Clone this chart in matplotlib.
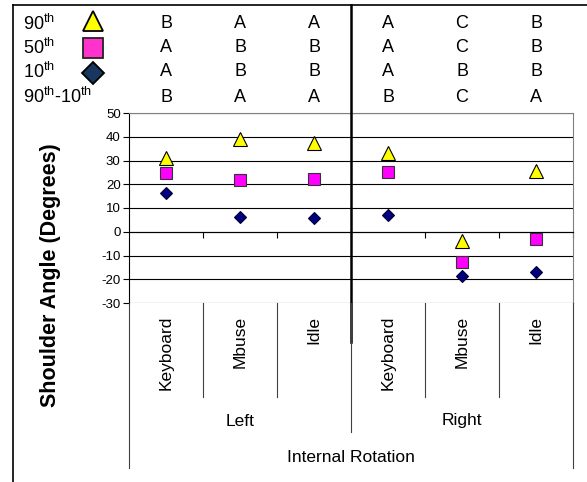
import matplotlib
matplotlib.use('Agg')
import matplotlib.pyplot as plt
import numpy as np

plt.rcParams['font.family'] = ['Liberation Sans', 'DejaVu Sans']
plt.rcParams['axes.unicode_minus'] = False

# data
conditions = ['Keyboard', 'Mbuse', 'Idle', 'Keyboard', 'Mbuse', 'Idle']
sides = ['Left', 'Right']
group = 'Internal Rotation'
p90 = [31, 39, 37.5, 33, -4, 25.5]
p50 = [24.8, 21.8, 22.3, 25.2, -12.6, -2.9]
p10 = [16.3, 6.2, 5.9, 7.1, -18.6, -16.8]
row_labels = [r'$\mathregular{90^{th}}$', r'$\mathregular{50^{th}}$',
              r'$\mathregular{10^{th}}$', r'$\mathregular{90^{th}}$-$\mathregular{10^{th}}$']
letters = [['B', 'A', 'A', 'A', 'C', 'B'],
           ['A', 'B', 'B', 'A', 'C', 'B'],
           ['A', 'B', 'B', 'A', 'B', 'B'],
           ['B', 'A', 'A', 'B', 'C', 'A']]
yticks = list(range(-30, 51, 10))

W, H = 587, 482
fig = plt.figure(figsize=(W / 100, H / 100), dpi=100)

# plot area (pixels)
L, R, T, B = 129, 573, 113, 303
ax = fig.add_axes([L / W, 1 - B / H, (R - L) / W, (B - T) / H])
n = len(conditions)
x = np.arange(n) + 0.5
ax.set_xlim(0, n)
ax.set_ylim(yticks[0], yticks[-1])
ax.set_yticks(yticks)
ax.grid(axis='y', color='black', lw=0.8)
ax.set_axisbelow(True)

ax.plot(x, p90, ls='none', marker='^', ms=9.5, mfc='#FFFF00', mec='black', mew=0.8, zorder=4)
ax.plot(x, p50, ls='none', marker='s', ms=8.5, mfc='#FF00FF', mec='#333333', mew=0.8, zorder=4)
ax.plot(x, p10, ls='none', marker='D', ms=6.3, mfc='#000080', mec='#000033', mew=0.8, zorder=4)

ax.spines['bottom'].set_position(('data', 0))
ax.spines['bottom'].set_linewidth(0.8)
ax.spines['left'].set_linewidth(0.8)
ax.spines['top'].set_color('#808080')
ax.spines['right'].set_color('#808080')
ax.set_xticks(np.arange(1, n + 1))
ax.set_xticklabels([])
ax.tick_params(axis='x', direction='out', length=4, width=0.8)
ax.tick_params(axis='y', direction='out', length=4, width=0.8, labelsize=9.5, pad=2)

# overlay in pixel coordinates for table, borders and category labels
ov = fig.add_axes([0, 0, 1, 1])
ov.set_xlim(0, W)
ov.set_ylim(H, 0)
ov.axis('off')
ov.set_zorder(5)

cw = (R - L) / n
centers = [L + (i + 0.5) * cw for i in range(n)]
bounds = [L + i * cw for i in range(n + 1)]

# outer border
ov.plot([13, W], [5, 5], color='black', lw=1.2)
ov.plot([13, 13], [5, H], color='black', lw=1.2)
ov.plot([bounds[3], bounds[3]], [5, 342], color='black', lw=1.8)

# category axis dividers below plot
for i, bx in enumerate(bounds):
    if i in (0, n):
        yb = 468
    elif i == 3:
        yb = 432
    else:
        yb = 397
    ov.plot([bx, bx], [B, yb], color='#404040', lw=0.8)

for cx, lab in zip(centers, conditions):
    ov.text(cx, 316, lab, rotation=90, ha='center', va='top', fontsize=12.5)
for k, s in enumerate(sides):
    ov.text((bounds[3 * k] + bounds[3 * k + 3]) / 2, 421, s, ha='center', va='center', fontsize=12.5)
ov.text((bounds[0] + bounds[n]) / 2, 457, group, ha='center', va='center', fontsize=12.5)

# y label
ov.text(51, 275, 'Shoulder Angle (Degrees)', rotation=90, ha='center', va='center',
        fontsize=15.5, fontweight='bold')

# table of letters above the plot
row_y = [24, 48, 72, 97]
for ry, lab, row in zip(row_y, row_labels, letters):
    ov.text(23, ry, lab, ha='left', va='center', fontsize=13)
    for cx, letter in zip(centers, row):
        ov.text(cx, ry, letter, ha='center', va='center', fontsize=13)

ov.plot([93], [21], marker='^', ms=15, mfc='#FFFF00', mec='black', mew=1.3)
ov.plot([93], [48], marker='s', ms=14, mfc='#FF33CC', mec='#222222', mew=1.3)
ov.plot([93], [73], marker='D', ms=11.5, mfc='#17375E', mec='black', mew=1.3)

fig.savefig('out.png', dpi=100)
